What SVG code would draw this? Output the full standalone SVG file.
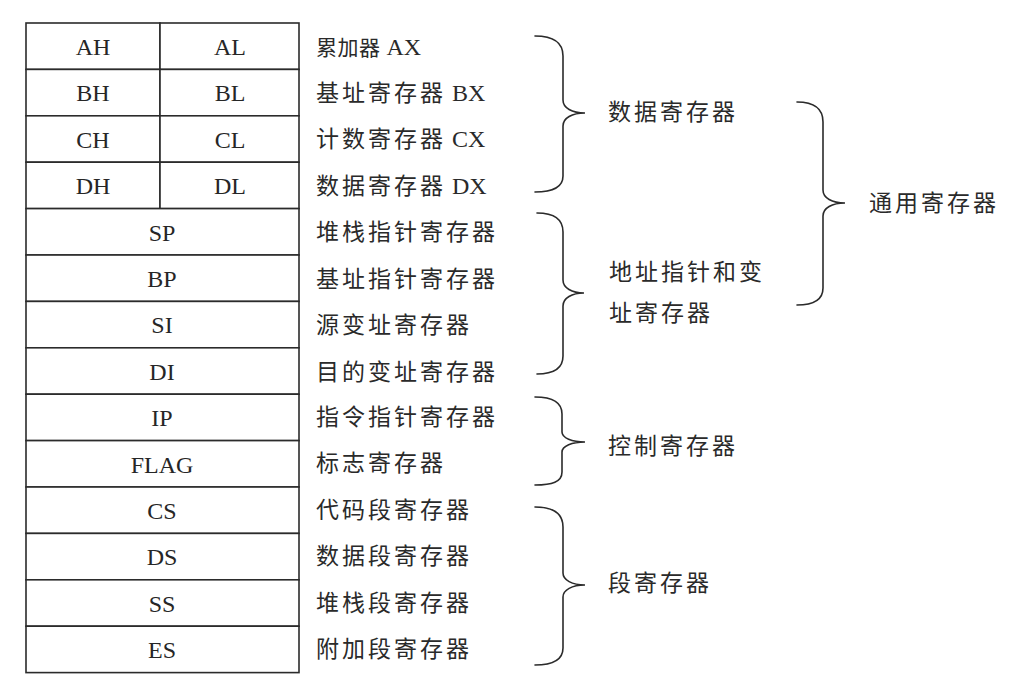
<svg xmlns="http://www.w3.org/2000/svg" width="1021" height="696" viewBox="0 0 1021 696">
<style>
.cell{fill:#fff;stroke:#2b2b2b;stroke-width:1.6}
.reg{font-family:"Liberation Serif","Noto Sans CJK SC",serif;font-size:24px;fill:#262626;text-anchor:middle}
.lbl{font-family:"Liberation Serif","Noto Sans CJK SC",serif;font-size:23px;fill:#2a2a2a;letter-spacing:3px}
.lat{font-size:24px;letter-spacing:0}
.brace{fill:none;stroke:#2b2b2b;stroke-width:1.6;stroke-linecap:round}
</style>
<rect width="1021" height="696" fill="#fff"/>
<g id="table">
<g id="row-A"><rect class="cell" x="26" y="23" width="134" height="46.4"/><rect class="cell" x="160" y="23" width="139" height="46.4"/><text class="reg" x="93" y="55">AH</text><text class="reg" x="230" y="55">AL</text></g>
<g id="row-B"><rect class="cell" x="26" y="69.4" width="134" height="46.4"/><rect class="cell" x="160" y="69.4" width="139" height="46.4"/><text class="reg" x="93" y="101.4">BH</text><text class="reg" x="230" y="101.4">BL</text></g>
<g id="row-C"><rect class="cell" x="26" y="115.8" width="134" height="46.4"/><rect class="cell" x="160" y="115.8" width="139" height="46.4"/><text class="reg" x="93" y="147.8">CH</text><text class="reg" x="230" y="147.8">CL</text></g>
<g id="row-D"><rect class="cell" x="26" y="162.2" width="134" height="46.4"/><rect class="cell" x="160" y="162.2" width="139" height="46.4"/><text class="reg" x="93" y="194.2">DH</text><text class="reg" x="230" y="194.2">DL</text></g>
<g id="row-SP"><rect class="cell" x="26" y="208.6" width="273" height="46.4"/><text class="reg" x="162" y="240.6">SP</text></g>
<g id="row-BP"><rect class="cell" x="26" y="255" width="273" height="46.4"/><text class="reg" x="162" y="287">BP</text></g>
<g id="row-SI"><rect class="cell" x="26" y="301.4" width="273" height="46.4"/><text class="reg" x="162" y="333.4">SI</text></g>
<g id="row-DI"><rect class="cell" x="26" y="347.8" width="273" height="46.4"/><text class="reg" x="162" y="379.8">DI</text></g>
<g id="row-IP"><rect class="cell" x="26" y="394.2" width="273" height="46.4"/><text class="reg" x="162" y="426.2">IP</text></g>
<g id="row-FLAG"><rect class="cell" x="26" y="440.6" width="273" height="46.4"/><text class="reg" x="162" y="472.6">FLAG</text></g>
<g id="row-CS"><rect class="cell" x="26" y="487" width="273" height="46.4"/><text class="reg" x="162" y="519">CS</text></g>
<g id="row-DS"><rect class="cell" x="26" y="533.4" width="273" height="46.4"/><text class="reg" x="162" y="565.4">DS</text></g>
<g id="row-SS"><rect class="cell" x="26" y="579.8" width="273" height="46.4"/><text class="reg" x="162" y="611.8">SS</text></g>
<g id="row-ES"><rect class="cell" x="26" y="626.2" width="273" height="46.4"/><text class="reg" x="162" y="658.2">ES</text></g>
</g>
<g id="labels">
<text class="lbl" x="316" y="55"><tspan style="font-size:21px;letter-spacing:0.5px">累加器</tspan><tspan class="lat"> AX</tspan></text>
<text class="lbl" x="316" y="101">基址寄存器<tspan class="lat"> BX</tspan></text>
<text class="lbl" x="316" y="147">计数寄存器<tspan class="lat"> CX</tspan></text>
<text class="lbl" x="316" y="194">数据寄存器<tspan class="lat"> DX</tspan></text>
<text class="lbl" x="316" y="240">堆栈指针寄存器</text>
<text class="lbl" x="316" y="287">基址指针寄存器</text>
<text class="lbl" x="316" y="333">源变址寄存器</text>
<text class="lbl" x="316" y="380">目的变址寄存器</text>
<text class="lbl" x="316" y="425">指令指针寄存器</text>
<text class="lbl" x="316" y="471">标志寄存器</text>
<text class="lbl" x="316" y="518">代码段寄存器</text>
<text class="lbl" x="316" y="564">数据段寄存器</text>
<text class="lbl" x="316" y="611">堆栈段寄存器</text>
<text class="lbl" x="316" y="657">附加段寄存器</text>
</g>
<g id="connectors">
<path id="brace-data" class="brace" d="M535,36 C552,36 563,42 563,56 L563,100 C563,108 572,113 585,113 C572,113 563,118 563,126 L563,176 C563,188 552,192 535,192"/>
<path id="brace-addr" class="brace" d="M537,213 C554,213 563,219 563,232 L563,280 C563,288 572,293 584,293 C572,293 563,298 563,306 L563,356 C563,368 554,374 537,374"/>
<path id="brace-general" class="brace" d="M797,102 C814,102 823,108 823,122 L823,190 C823,198 832,203 845,203 C832,203 823,208 823,216 L823,288 C823,300 814,305 797,305"/>
<path id="brace-ctrl" class="brace" d="M535,397 C552,397 562,402 562,414 L562,432 C562,438 572,442 585,442 C572,442 562,446 562,452 L562,472 C562,482 552,485 535,485"/>
<path id="brace-seg" class="brace" d="M535,507 C552,507 563,513 563,527 L563,573 C563,580 572,585 585,585 C572,585 563,590 563,597 L563,648 C563,660 552,665 535,665"/>
</g>
<g id="group-labels">
<text class="lbl" x="608" y="120">数据寄存器</text>
<text class="lbl" x="609" y="280">地址指针和变</text>
<text class="lbl" x="609" y="321">址寄存器</text>
<text class="lbl" x="869" y="211">通用寄存器</text>
<text class="lbl" x="608" y="454">控制寄存器</text>
<text class="lbl" x="608" y="591">段寄存器</text>
</g>
</svg>
